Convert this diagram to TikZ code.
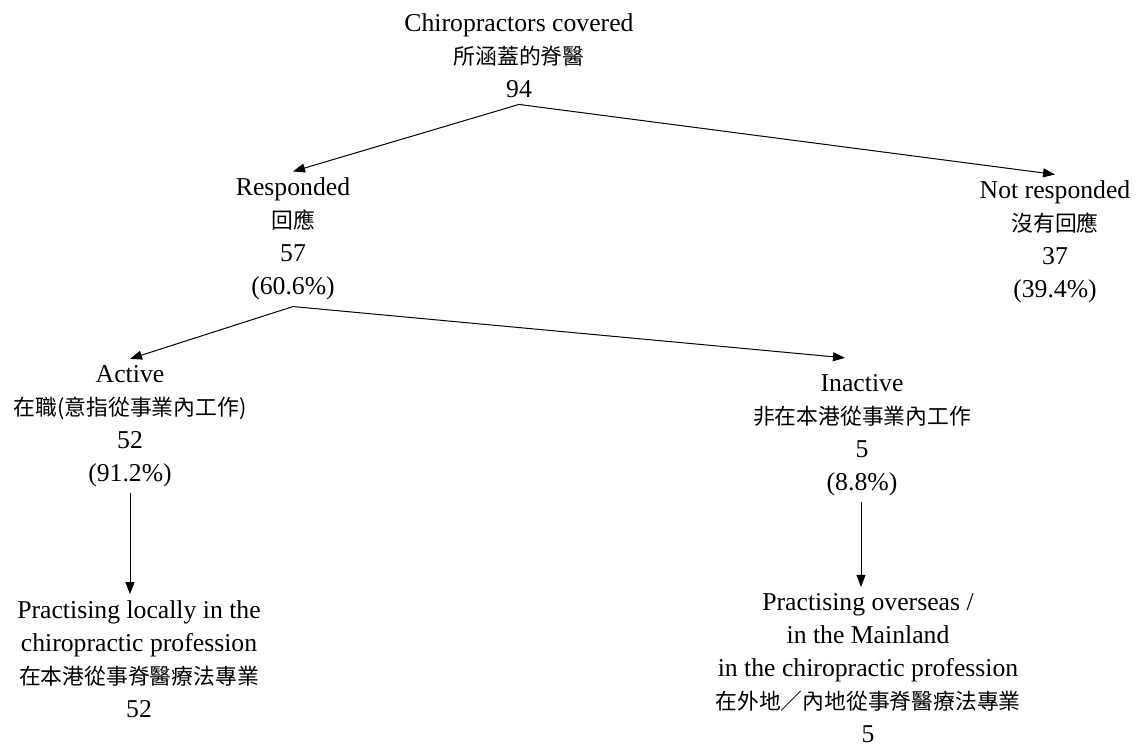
\documentclass[tikz,border=0pt]{standalone}
\usepackage{fontspec}
\setmainfont{Liberation Serif}
\newfontfamily\cjk{Noto Sans CJK TC}
\usetikzlibrary{arrows.meta,calc,positioning}
\tikzset{
boxstyle/.style={
  align=center,
  inner sep=3pt,
  font=\fontsize{12.85}{16.5}\selectfont,
  }
}
\tikzset{
myline/.style={
  line width=0.5pt,
  -{Triangle[length=6pt,width=4.5pt]}
  }
}
\newcommand{\zh}[1]{{\cjk\fontsize{10.9}{16.5}\selectfont #1}}

\begin{document}
\begin{tikzpicture}[x=0.5pt,y=-0.5pt]
    \useasboundingbox (0,0) rectangle (1139,745);

    % top part
    \node[boxstyle] (cov) at (519,56) {Chiropractors covered\\\zh{所涵蓋的脊醫}\\94};

    % response part
    \node[boxstyle] (resp) at (293,239) {Responded\\\zh{回應}\\57\\(60.6\%)};
    \node[boxstyle] (nresp) at (1055,242) {Not responded\\\zh{沒有回應}\\37\\(39.4\%)};

    % activity part
    \node[boxstyle] (act) at (130,426) {Active\\\zh{在職(意指從事業內工作)}\\52\\(91.2\%)};
    \node[boxstyle] (inact) at (862,435) {Inactive\\\zh{非在本港從事業內工作}\\5\\(8.8\%)};

    % practising part
    \node[boxstyle] (loc) at (139,659) {Practising locally in the\\chiropractic profession\\\zh{在本港從事脊醫療法專業}\\52};
    \node[boxstyle] (ovs) at (868,668) {Practising overseas /\\in the Mainland\\in the chiropractic profession\\\zh{在外地／內地從事脊醫療法專業}\\5};

    % response edges
    \draw[myline] (cov.south) -- (resp.north);
    \draw[myline] (cov.south) -- (nresp.north);

    % activity edges
    \draw[myline] (resp.south) -- (act.north);
    \draw[myline] (resp.south) -- ([xshift=-8.5pt,yshift=5pt]inact.north);

    % practising edges
    \draw[myline] (act.south) -- (act.south |- loc.north);
    \draw[myline] ([xshift=-0.5pt]inact.south) -- ([xshift=-0.5pt]inact.south |- ovs.north);
\end{tikzpicture}
\end{document}
